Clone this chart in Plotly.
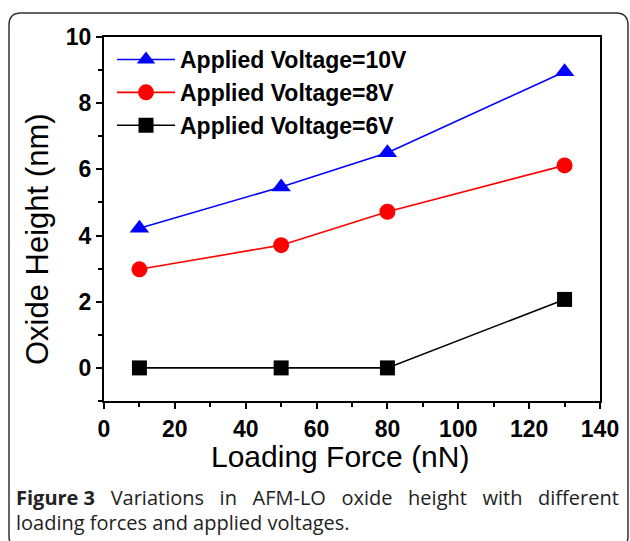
import plotly.graph_objects as go

force = [10, 50, 80, 130]
h10 = [4.22, 5.47, 6.5, 8.95]
h8 = [2.98, 3.71, 4.72, 6.12]
h6 = [0.0, 0.0, 0.0, 2.07]
names = ["Applied Voltage=10V", "Applied Voltage=8V", "Applied Voltage=6V"]
colors = ["#0000ff", "#ff0000", "#000000"]
symbols = ["triangle-up", "circle", "square"]
msizes = [17, 16, 15]

x_title = "Loading Force (nN)"
y_title = "Oxide Height (nm)"
caption1_bold = "Figure 3"
caption1_words = ["Variations", "in", "AFM-LO", "oxide", "height", "with", "different"]
caption2 = "loading forces and applied voltages."

fig = go.Figure()
for y, n, c, s, ms in zip([h10, h8, h6], names, colors, symbols, msizes):
    fig.add_trace(go.Scatter(
        x=force, y=y, name=n, mode="lines+markers",
        line=dict(color=c, width=1.6),
        marker=dict(symbol=s, size=ms, color=c),
    ))

W, H = 630, 541
L, R, T, B = 104, 30, 37, 140
pw, ph = W - L - R, H - T - B

def px(x):
    return (x - L) / pw

def py(y):
    return (H - B - y) / ph

axis_common = dict(
    showline=True, linecolor="black", linewidth=2, mirror=True,
    ticks="outside", tickcolor="black", tickwidth=2, ticklen=6,
    showgrid=False, zeroline=False,
    tickfont=dict(family="Liberation Sans, Arial", size=23, color="black", weight="bold"),
)

fig.update_xaxes(
    range=[0, 140], tickvals=[0, 20, 40, 60, 80, 100, 120, 140],
    minor=dict(ticks="outside", ticklen=4, tickwidth=2, tickcolor="black", dtick=10, tick0=0),
    **axis_common,
)
fig.update_yaxes(
    range=[-1, 10], tickvals=[0, 2, 4, 6, 8, 10],
    minor=dict(ticks="outside", ticklen=4, tickwidth=2, tickcolor="black", dtick=1, tick0=0),
    **axis_common,
)

title_font = dict(family="Liberation Sans, Arial", size=30, color="black")
fig.add_annotation(x=px(340), y=py(457), xref="paper", yref="paper", xanchor="center", yanchor="middle",
                   text=x_title, showarrow=False, font=title_font)
fig.add_annotation(x=px(37), y=py(239), xref="paper", yref="paper", xanchor="center", yanchor="middle",
                   text=y_title, showarrow=False, textangle=-90,
                   font=dict(family="Liberation Sans, Arial", size=31, color="black"))

# rounded border
x0, x1 = px(9), px(628)
y0, y1 = py(13), py(548)
rx, ry = 12 / pw, 12 / ph
path = (f"M{x0+rx},{y0} L{x1-rx},{y0} Q{x1},{y0} {x1},{y0-ry} "
        f"L{x1},{y1+ry} Q{x1},{y1} {x1-rx},{y1} L{x0+rx},{y1} Q{x0},{y1} {x0},{y1+ry} "
        f"L{x0},{y0-ry} Q{x0},{y0} {x0+rx},{y0} Z")
fig.add_shape(type="path", path=path, xref="paper", yref="paper",
              line=dict(color="#333333", width=1.5), layer="below")

cap_font = dict(family="Open Sans", size=20, color="#222222")
gap = "&nbsp;" * 3
line1 = f"<b>{caption1_bold}</b>{gap}" + gap.join(caption1_words)
fig.add_annotation(x=px(14), y=py(497), xref="paper", yref="paper", xanchor="left", yanchor="middle",
                   text=line1, showarrow=False, font=cap_font)
fig.add_annotation(x=px(14), y=py(522), xref="paper", yref="paper", xanchor="left", yanchor="middle",
                   text=caption2, showarrow=False, font=cap_font)

fig.update_layout(
    width=W, height=H,
    margin=dict(l=L, r=R, t=T, b=B, autoexpand=False),
    paper_bgcolor="white", plot_bgcolor="white",
    showlegend=True,
    legend=dict(x=px(112), y=py(38), xanchor="left", yanchor="top",
                bgcolor="rgba(0,0,0,0)", borderwidth=0, itemwidth=58, tracegroupgap=0,
                font=dict(family="Liberation Sans, Arial", size=23, color="black", weight="bold")),
)

fig.write_html("out.html")
